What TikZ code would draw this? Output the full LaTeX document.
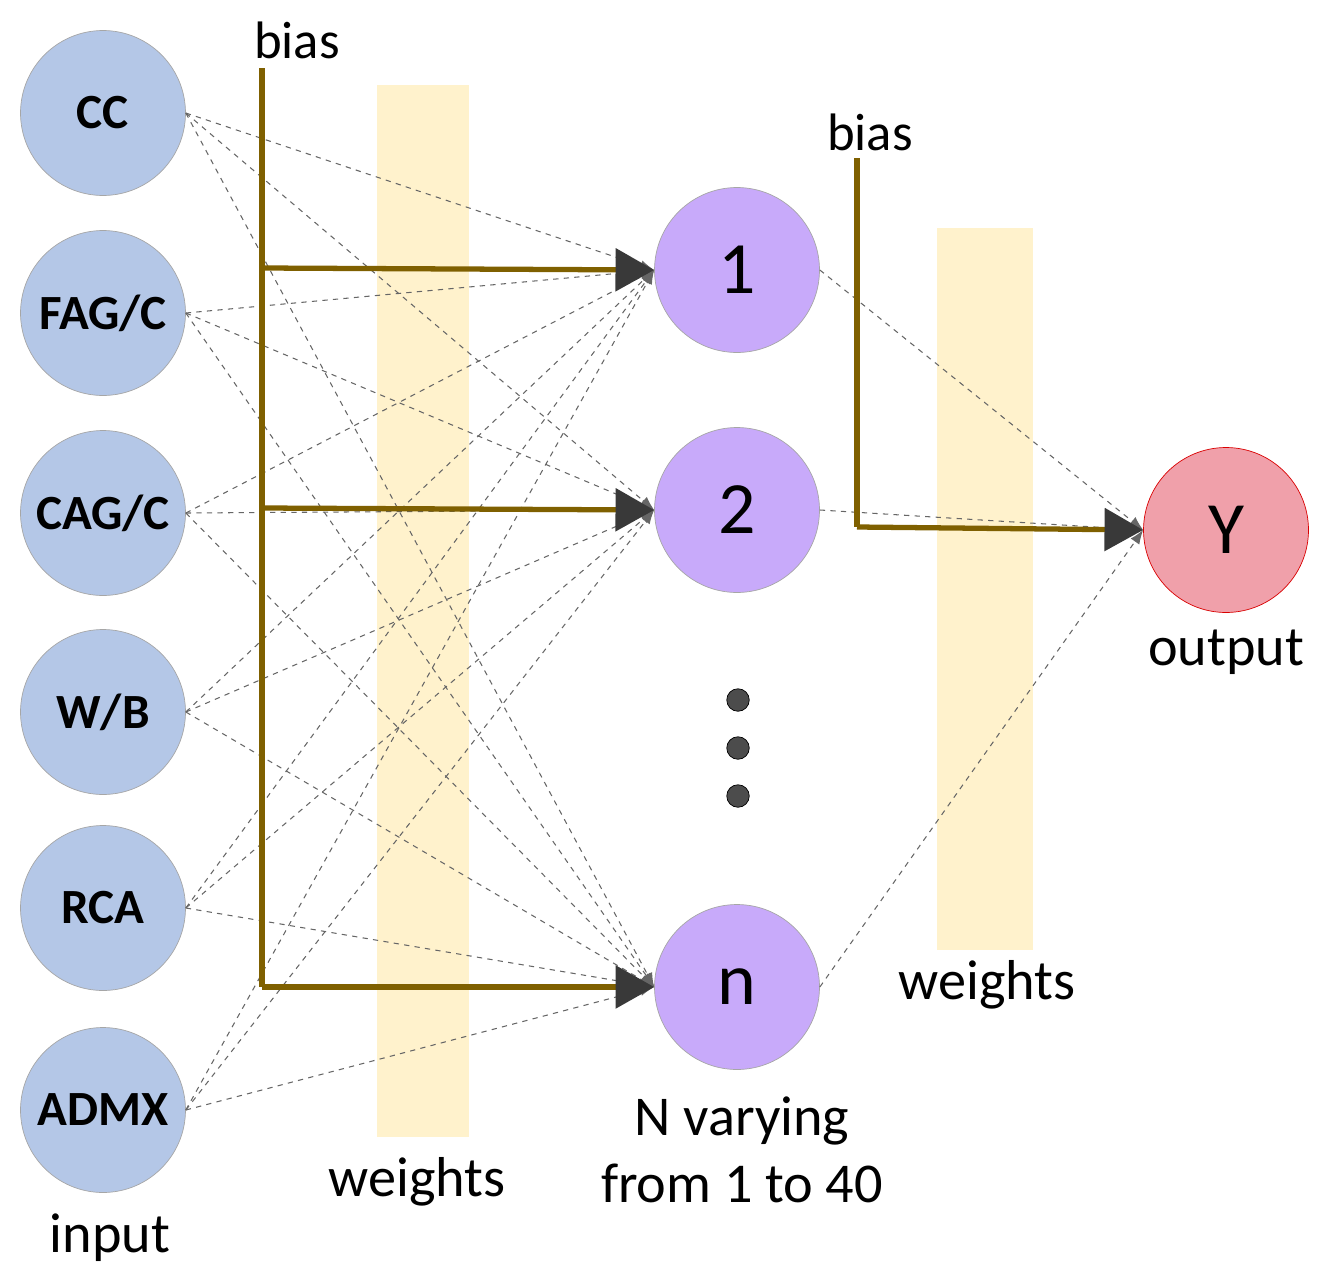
\documentclass[tikz,border=0pt]{standalone}
\usepackage{fontspec}
\setmainfont{Carlito}
\usetikzlibrary{arrows.meta}
\definecolor{inblue}{RGB}{180,199,231}
\definecolor{hidpurple}{RGB}{200,170,250}
\definecolor{outpink}{RGB}{240,160,170}
\definecolor{biasbrown}{RGB}{127,96,0}
\definecolor{barcream}{RGB}{255,242,204}
\tikzset{
  innode/.style={circle, draw=gray!70, fill=inblue, minimum size=3.3cm, inner sep=0pt,
    font=\fontsize{28}{32}\selectfont\bfseries},
  hidnode/.style={circle, draw=gray!70, fill=hidpurple, minimum size=3.3cm, inner sep=0pt,
    font=\fontsize{42}{48}\selectfont},
  outnode/.style={circle, draw=red!85!black, fill=outpink, minimum size=3.3cm, inner sep=0pt,
    font=\fontsize{42}{48}\selectfont},
  lbl/.style={font=\fontsize{32}{38}\selectfont, align=center},
  wire/.style={gray!80!black, dashed, line width=0.6pt, -{Latex[length=8pt,width=6pt]}},
  biasline/.style={biasbrown, line width=3pt},
  biasarrow/.style={biasbrown, line width=3pt, -{Triangle[length=22pt,width=24pt,fill=gray!45!black,color=gray!45!black]}}
}
\begin{document}
\begin{tikzpicture}[x=0.02cm,y=-0.02cm]
\useasboundingbox (0,0) rectangle (1329,1288);

% weight bars
\fill[barcream] (377,85) rectangle (469,1137);
\fill[barcream] (937,228) rectangle (1033,950);

% input layer
\foreach \name/\txt/\y in {cc/CC/113, fag/FAG\slash C/313, cag/CAG\slash C/513,
  wb/W\slash B/712, rca/RCA/908, admx/ADMX/1110}
  \node[innode] (\name) at (103,\y) {\txt};

% hidden layer
\node[hidnode] (h1) at (737,270) {1};
\node[hidnode] (h2) at (737,510) {2};
\node[hidnode] (hn) at (737,987) {n};
\foreach \y [count=\i] in {700,748,796}
  \node[circle, fill=gray!60!black, draw=black, minimum size=0.45cm, inner sep=0pt] (dot\i) at (738,\y) {};

% output
\node[outnode] (y) at (1226,530) {Y};

% dashed weights
\foreach \a in {cc,fag,cag,wb,rca,admx}
  \foreach \b in {h1,h2,hn}
    \draw[wire] (\a.east) -- (\b.west);
\foreach \b in {h1,h2,hn}
  \draw[wire] (\b.east) -- (y.west);

% bias to hidden layer
\coordinate (b1top) at (262,68);
\coordinate (b1a) at (262,268);
\coordinate (b1b) at (262,508);
\coordinate (b1n) at (262,987);
\draw[biasline] (b1top) -- (b1n);
\draw[biasarrow] (b1a) -- (h1.west);
\draw[biasarrow] (b1b) -- (h2.west);
\draw[biasarrow] (b1n) -- (hn.west);

% bias to output
\coordinate (b2top) at (857,158);
\coordinate (b2bend) at (857,527);
\draw[biasline] (b2top) -- (b2bend);
\draw[biasarrow] (b2bend) -- (y.west);

% labels
\node[lbl, font=\fontsize{30}{34}\selectfont] (bias1) at (297,40) {bias};
\node[lbl, font=\fontsize{30}{34}\selectfont] (bias2) at (870,132) {bias};
\node[lbl] (w1) at (417,1182) {weights};
\node[lbl] (w2) at (987,985) {weights};
\node[lbl] (inlbl) at (110,1238) {input};
\node[lbl] (outlbl) at (1226,652) {output};
\node[lbl] (nlbl) at (742,1150) {N varying\\from 1 to 40};
\end{tikzpicture}
\end{document}
